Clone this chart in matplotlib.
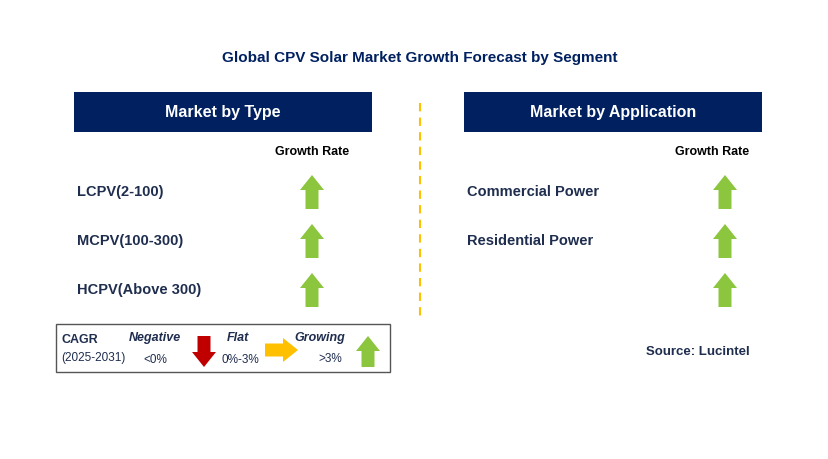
import matplotlib.pyplot as plt
from matplotlib.patches import Rectangle, Polygon

# 数据
type_segments = ["LCPV(2-100)", "MCPV(100-300)", "HCPV(Above 300)"]
type_trend = ["up", "up", "up"]
app_segments = ["Commercial Power", "Residential Power", ""]
app_trend = ["up", "up", "up"]

navy = "#002060"
text_c = "#1F2D4E"
green = "#8CC63F"
red = "#C00000"
yellow = "#FFC000"

fig = plt.figure(figsize=(8.29, 4.59), dpi=100)
ax = fig.add_axes([0, 0, 1, 1])
ax.set_xlim(0, 829)
ax.set_ylim(459, 0)
ax.axis('off')


def arrow(cx, y0, y1, color, direction="up", w=24, sw=13, head=15):
    # 矢印を多角形で描く
    if direction == "up":
        pts = [(cx, y0), (cx + w/2, y0 + head), (cx + sw/2, y0 + head), (cx + sw/2, y1),
               (cx - sw/2, y1), (cx - sw/2, y0 + head), (cx - w/2, y0 + head)]
    elif direction == "down":
        pts = [(cx, y1), (cx + w/2, y1 - head), (cx + sw/2, y1 - head), (cx + sw/2, y0),
               (cx - sw/2, y0), (cx - sw/2, y1 - head), (cx - w/2, y1 - head)]
    else:  # right: y0,y1 = x range, cx = y center
        x0, x1, cy = y0, y1, cx
        pts = [(x1, cy), (x1 - head, cy - w/2), (x1 - head, cy - sw/2), (x0, cy - sw/2),
               (x0, cy + sw/2), (x1 - head, cy + sw/2), (x1 - head, cy + w/2)]
    ax.add_patch(Polygon(pts, closed=True, facecolor=color, edgecolor="none"))


ax.text(420, 58, "Global CPV Solar Market Growth Forecast by Segment", ha="center", va="center",
        fontsize=11, fontweight="bold", color=navy, family="Liberation Sans")

# 見出し
for x0, title in [(74, "Market by Type"), (464, "Market by Application")]:
    ax.add_patch(Rectangle((x0, 92), 298, 40, facecolor=navy, edgecolor="none"))
    ax.text(x0 + 149, 112, title, ha="center", va="center", fontsize=11.5,
            fontweight="bold", color="white", family="Liberation Sans")

ax.plot([420, 420], [103, 320], color=yellow, lw=1.5, ls=(0, (4, 3)))

ax.text(312, 152, "Growth Rate", ha="center", va="center", fontsize=9, fontweight="bold",
        color="black", family="Liberation Sans")
ax.text(712, 152, "Growth Rate", ha="center", va="center", fontsize=9, fontweight="bold",
        color="black", family="Liberation Sans")

rows_y = [192, 241, 290]
for i, (lab, tr) in enumerate(zip(type_segments, type_trend)):
    ax.text(77, rows_y[i], lab, ha="left", va="center", fontsize=10.5, fontweight="bold",
            color=text_c, family="Liberation Sans")
    arrow(312, rows_y[i] - 17, rows_y[i] + 17, green)
for i, (lab, tr) in enumerate(zip(app_segments, app_trend)):
    ax.text(467, rows_y[i], lab, ha="left", va="center", fontsize=10.5, fontweight="bold",
            color=text_c, family="Liberation Sans")
    arrow(725, rows_y[i] - 17, rows_y[i] + 17, green)

# 凡例
ax.add_patch(Rectangle((56, 324), 334, 48, facecolor="white", edgecolor="#555555", lw=1))
ax.text(62, 340, "CAGR", fontsize=9, fontweight="bold", color=text_c, va="center", family="Liberation Sans")
ax.text(61, 358, "(2025-2031)", fontsize=8.5, color=text_c, va="center", family="Liberation Sans")
ax.text(155, 338, "Negative", fontsize=9, fontweight="bold", style="italic", color=text_c, ha="center", va="center", family="Liberation Sans")
ax.text(155, 360, "<0%", fontsize=8.5, color=text_c, ha="center", va="center", family="Liberation Sans")
arrow(204, 336, 367, red, direction="down")
ax.text(238, 338, "Flat", fontsize=9, fontweight="bold", style="italic", color=text_c, ha="center", va="center", family="Liberation Sans")
ax.text(240, 360, "0%-3%", fontsize=8.5, color=text_c, ha="center", va="center", family="Liberation Sans")
arrow(350, 265, 298, yellow, direction="right")
ax.text(320, 338, "Growing", fontsize=9, fontweight="bold", style="italic", color=text_c, ha="center", va="center", family="Liberation Sans")
ax.text(330, 359, ">3%", fontsize=8.5, color=text_c, ha="center", va="center", family="Liberation Sans")
arrow(368, 336, 367, green)

ax.text(750, 352, "Source: Lucintel", ha="right", va="center", fontsize=9.5, fontweight="bold",
        color=text_c, family="Liberation Sans")

fig.savefig("out.png", dpi=100)
